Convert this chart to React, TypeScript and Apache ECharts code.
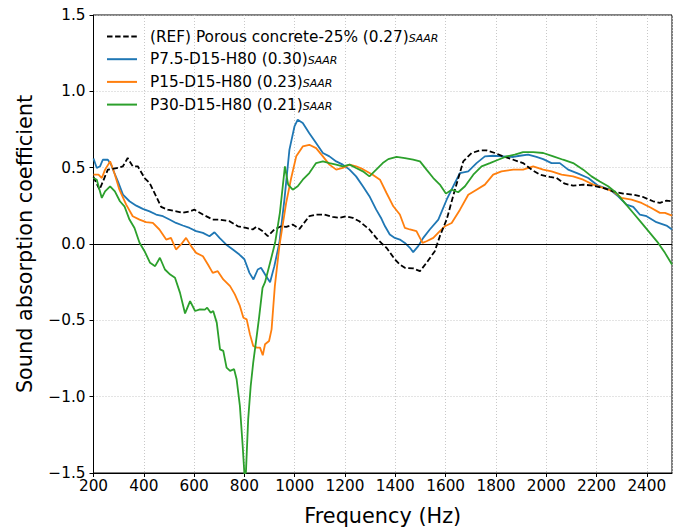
import React, { useEffect, useRef } from "react";
import * as echarts from "echarts";

const xTicks = [200, 400, 600, 800, 1000, 1200, 1400, 1600, 1800, 2000, 2200, 2400];
const yTicks = [-1.5, -1.0, -0.5, 0.0, 0.5, 1.0, 1.5];

const seriesNames = ["REF", "P7.5", "P15", "P30"];
const legendMain = [
  "(REF) Porous concrete-25% (0.27)",
  "P7.5-D15-H80 (0.30)",
  "P15-D15-H80 (0.23)",
  "P30-D15-H80 (0.21)",
];
const legendSub = ["SAAR", "SAAR", "SAAR", "SAAR"];
const colors = ["#000000", "#1f77b4", "#ff7f0e", "#2ca02c"];

const refFreq = [200, 224, 257, 297, 317, 336, 356, 376, 403, 423, 449, 469, 495, 529, 555, 582, 601, 635, 674, 701, 741, 774, 807, 833, 847, 873, 893, 919, 946, 966, 992, 1019, 1058, 1085, 1118, 1151, 1178, 1204, 1231, 1257, 1297, 1324, 1345, 1365, 1398, 1418, 1438, 1471, 1498, 1524, 1557, 1577, 1604, 1637, 1670, 1703, 1736, 1763, 1796, 1829, 1869, 1908, 1942, 1975, 2014, 2041, 2074, 2107, 2147, 2187, 2226, 2266, 2306, 2346, 2385, 2425, 2452, 2478, 2500];
const refVal = [0.44, 0.356, 0.487, 0.498, 0.509, 0.563, 0.509, 0.509, 0.432, 0.40, 0.312, 0.243, 0.225, 0.214, 0.204, 0.214, 0.225, 0.193, 0.16, 0.16, 0.149, 0.116, 0.105, 0.095, 0.112, 0.084, 0.051, 0.095, 0.116, 0.112, 0.127, 0.099, 0.182, 0.193, 0.193, 0.177, 0.171, 0.182, 0.171, 0.149, 0.095, 0.04, 0.005, -0.025, -0.10, -0.134, -0.156, -0.16, -0.178, -0.123, -0.047, 0.051, 0.16, 0.356, 0.541, 0.596, 0.613, 0.613, 0.596, 0.574, 0.552, 0.53, 0.487, 0.454, 0.439, 0.432, 0.395, 0.382, 0.389, 0.382, 0.367, 0.345, 0.330, 0.323, 0.308, 0.280, 0.269, 0.284, 0.280];

const p75Freq = [200, 213, 226, 237, 257, 270, 283, 297, 317, 343, 370, 396, 423, 449, 476, 502, 528, 555, 582, 608, 635, 661, 681, 701, 727, 754, 780, 800, 820, 836, 853, 866, 886, 902, 919, 939, 959, 979, 999, 1012, 1032, 1058, 1085, 1112, 1138, 1165, 1191, 1218, 1244, 1271, 1297, 1324, 1345, 1359, 1378, 1398, 1418, 1438, 1458, 1471, 1491, 1511, 1537, 1571, 1604, 1630, 1657, 1690, 1723, 1756, 1789, 1829, 1869, 1895, 1928, 1961, 1988, 2021, 2054, 2087, 2127, 2167, 2206, 2253, 2286, 2319, 2346, 2372, 2399, 2438, 2478, 2500];
const p75Val = [0.56, 0.498, 0.509, 0.552, 0.552, 0.52, 0.465, 0.41, 0.323, 0.28, 0.251, 0.23, 0.214, 0.193, 0.182, 0.16, 0.138, 0.121, 0.105, 0.084, 0.073, 0.051, 0.077, 0.04, -0.003, -0.036, -0.069, -0.10, -0.189, -0.232, -0.167, -0.156, -0.21, -0.25, -0.145, 0.008, 0.291, 0.618, 0.77, 0.814, 0.792, 0.726, 0.661, 0.596, 0.574, 0.541, 0.52, 0.487, 0.443, 0.378, 0.313, 0.225, 0.165, 0.116, 0.062, 0.040, 0.029, 0.007, -0.025, -0.053, -0.014, 0.040, 0.095, 0.16, 0.29, 0.378, 0.465, 0.476, 0.53, 0.574, 0.578, 0.574, 0.57, 0.578, 0.585, 0.57, 0.556, 0.53, 0.53, 0.487, 0.461, 0.432, 0.382, 0.356, 0.312, 0.258, 0.243, 0.193, 0.182, 0.143, 0.121, 0.095];

const p15Freq = [200, 220, 233, 246, 266, 283, 303, 330, 356, 383, 409, 436, 462, 489, 508, 528, 548, 568, 588, 608, 635, 655, 674, 694, 716, 743, 762, 782, 796, 809, 822, 835, 849, 862, 873, 882, 898, 908, 915, 921, 939, 966, 986, 1006, 1032, 1058, 1085, 1112, 1138, 1165, 1191, 1218, 1244, 1271, 1310, 1339, 1365, 1392, 1418, 1438, 1458, 1484, 1508, 1524, 1551, 1577, 1597, 1624, 1657, 1690, 1723, 1756, 1789, 1822, 1869, 1908, 1948, 1988, 2021, 2061, 2107, 2147, 2187, 2226, 2266, 2299, 2339, 2379, 2418, 2452, 2472, 2500];
const p15Val = [0.454, 0.454, 0.432, 0.487, 0.541, 0.465, 0.356, 0.258, 0.182, 0.16, 0.143, 0.138, 0.095, 0.029, 0.04, -0.036, -0.003, 0.04, -0.014, -0.058, -0.08, -0.134, -0.189, -0.178, -0.232, -0.276, -0.33, -0.406, -0.483, -0.494, -0.592, -0.668, -0.679, -0.679, -0.729, -0.657, -0.635, -0.559, -0.406, -0.276, -0.014, 0.269, 0.432, 0.574, 0.639, 0.65, 0.628, 0.574, 0.52, 0.487, 0.498, 0.52, 0.509, 0.49, 0.454, 0.421, 0.334, 0.247, 0.193, 0.105, 0.095, 0.084, 0.007, 0.018, 0.04, 0.084, 0.116, 0.138, 0.225, 0.323, 0.356, 0.389, 0.454, 0.476, 0.487, 0.487, 0.509, 0.487, 0.476, 0.454, 0.443, 0.421, 0.389, 0.367, 0.345, 0.302, 0.291, 0.269, 0.236, 0.204, 0.204, 0.186];

const p30Freq = [200, 213, 233, 246, 266, 285, 305, 323, 343, 363, 383, 403, 425, 445, 464, 484, 505, 524, 544, 564, 584, 604, 623, 643, 652, 666, 676, 690, 703, 716, 729, 743, 759, 769, 782, 793, 800, 806, 815, 825, 835, 849, 859, 872, 882, 902, 922, 941, 961, 974, 992, 1012, 1032, 1058, 1085, 1112, 1138, 1165, 1191, 1218, 1244, 1271, 1297, 1324, 1350, 1372, 1405, 1438, 1471, 1498, 1524, 1551, 1577, 1601, 1624, 1650, 1677, 1710, 1743, 1776, 1809, 1842, 1875, 1908, 1948, 1988, 2028, 2067, 2107, 2147, 2180, 2213, 2246, 2279, 2312, 2346, 2379, 2412, 2445, 2472, 2500];
const p30Val = [0.432, 0.421, 0.302, 0.345, 0.378, 0.345, 0.28, 0.247, 0.16, 0.105, 0.008, -0.047, -0.123, -0.145, -0.09, -0.167, -0.2, -0.221, -0.32, -0.455, -0.374, -0.439, -0.428, -0.43, -0.417, -0.45, -0.439, -0.515, -0.69, -0.7, -0.81, -0.831, -0.82, -0.886, -1.06, -1.32, -1.507, -1.496, -1.147, -0.93, -0.777, -0.602, -0.472, -0.287, -0.25, -0.123, 0.008, 0.204, 0.509, 0.389, 0.356, 0.378, 0.421, 0.465, 0.53, 0.541, 0.53, 0.52, 0.509, 0.52, 0.498, 0.476, 0.443, 0.487, 0.53, 0.556, 0.57, 0.563, 0.552, 0.541, 0.487, 0.432, 0.389, 0.33, 0.356, 0.339, 0.378, 0.454, 0.509, 0.53, 0.552, 0.574, 0.585, 0.602, 0.602, 0.596, 0.574, 0.552, 0.53, 0.487, 0.443, 0.41, 0.378, 0.334, 0.269, 0.203, 0.138, 0.073, 0.007, -0.058, -0.134];

const freqs = [refFreq, p75Freq, p15Freq, p30Freq];
const vals = [refVal, p75Val, p15Val, p30Val];

const FONT = "DejaVu Sans";

export default function App() {
  const ref = useRef<HTMLDivElement>(null);
  useEffect(() => {
    if (!ref.current) return;
    const chart = echarts.init(ref.current, undefined, { renderer: "svg" });
    const fmtMinus = (v: number) => (v < 0 ? "\u2212" + Math.abs(v).toFixed(1) : v.toFixed(1));
    const series: any[] = seriesNames.map((name, i) => ({
      name,
      type: "line",
      symbol: "none",
      showSymbol: false,
      data: freqs[i].map((f, j) => [f, vals[i][j]]),
      lineStyle: { color: colors[i], width: 1.8, type: i === 0 ? [5.5, 2.6] : "solid" },
      itemStyle: { color: colors[i] },
      z: i === 0 ? 6 : 3 + i,
    }));
    series.push({
      name: "zero",
      type: "line",
      data: [],
      symbol: "none",
      markLine: {
        silent: true,
        symbol: "none",
        label: { show: false },
        lineStyle: { color: "#000", width: 1, type: "solid" },
        data: [{ yAxis: 0 }],
      },
    });
    const legendMap: Record<string, number> = {};
    seriesNames.forEach((n, i) => (legendMap[n] = i));
    chart.setOption({
      animation: false,
      backgroundColor: "#fff",
      textStyle: { fontFamily: FONT },
      grid: {
        left: 93.5,
        right: 8,
        top: 15,
        bottom: 57,
        show: true,
        borderColor: "#000",
        borderWidth: 1,
        backgroundColor: "transparent",
      },
      legend: {
        data: seriesNames,
        orient: "vertical",
        left: 101,
        top: 24,
        itemWidth: 30,
        itemHeight: 14,
        itemGap: 7.7,
        itemStyle: { opacity: 0, borderWidth: 0 },
        textStyle: {
          color: "#000",
          fontFamily: FONT,
          padding: [0, 0, 0, 8],
          rich: {
            n: { fontSize: 15.3, fontFamily: FONT, color: "#000", lineHeight: 14 },
            s: {
              fontSize: 11,
              fontFamily: FONT,
              fontStyle: "italic",
              color: "#000",
              verticalAlign: "bottom",
              lineHeight: 7,
            },
          },
        },
        formatter: (name: string) => {
          const i = legendMap[name];
          return `{n|${legendMain[i]}}{s|${legendSub[i]}}`;
        },
      },
      xAxis: {
        type: "value",
        min: xTicks[0],
        max: 2500,
        interval: 200,
        name: "Frequency (Hz)",
        nameLocation: "middle",
        nameGap: 32,
        nameTextStyle: { fontSize: 20.8, color: "#000", fontFamily: FONT },
        axisLine: { show: true, onZero: false, lineStyle: { color: "#000", width: 1 } },
        axisTick: { show: true, length: 4, lineStyle: { color: "#000" } },
        axisLabel: {
          color: "#000",
          fontSize: 15.3,
          fontFamily: FONT,
          margin: 5,
          showMaxLabel: false,
          formatter: (v: number) => (xTicks.includes(v) ? String(v) : ""),
        },
        splitLine: { show: true, lineStyle: { color: "#c8c8c8", type: [1, 2], width: 1 } },
      },
      yAxis: {
        type: "value",
        min: yTicks[0],
        max: yTicks[yTicks.length - 1],
        interval: 0.5,
        name: "Sound absorption coefficient",
        nameLocation: "middle",
        nameGap: 58,
        nameTextStyle: { fontSize: 20.8, color: "#000", fontFamily: FONT },
        axisLine: { show: true, onZero: false, lineStyle: { color: "#000", width: 1 } },
        axisTick: { show: true, length: 4, lineStyle: { color: "#000" } },
        axisLabel: { color: "#000", fontSize: 15.3, fontFamily: FONT, margin: 8, formatter: fmtMinus },
        splitLine: { show: true, lineStyle: { color: "#c8c8c8", type: [1, 2], width: 1 } },
      },
      series,
    });
    return () => chart.dispose();
  }, []);
  return (
    <div
      ref={ref}
      style={{ position: "fixed", left: 0, top: 0, width: 680, height: 531, background: "#fff" }}
    />
  );
}
